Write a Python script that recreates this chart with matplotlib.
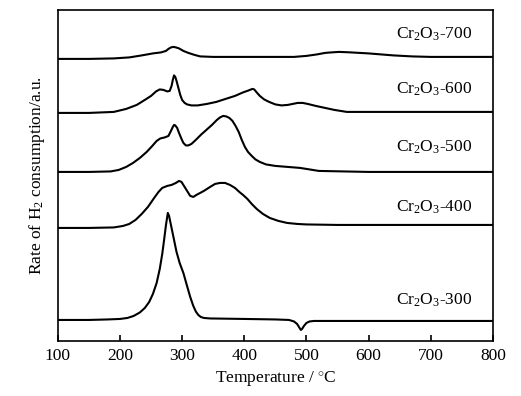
import numpy as np
import matplotlib
matplotlib.use('Agg')
from matplotlib import pyplot as plt

plt.rcParams['font.family'] = ['Liberation Serif', 'DejaVu Serif']
plt.rcParams['mathtext.fontset'] = 'custom'
plt.rcParams['mathtext.rm'] = 'Liberation Serif'
plt.rcParams['mathtext.default'] = 'rm'

# temperatures (C) and signal heights (a.u., stacked)
t300 = [100, 150, 180, 200, 212, 222, 232, 240, 247, 253, 259, 264, 268, 271, 274, 276, 277, 279, 281, 284,
        287, 291, 296, 302, 307, 313, 318, 322, 326, 330, 335, 345, 400, 450, 472, 480, 485, 489, 491,
        493, 496, 500, 505, 512, 550, 650, 800]
s300 = [21, 21, 21.5, 22, 23, 25, 28.5, 33, 39, 47, 58, 72, 87, 101, 116, 124, 128, 125, 119, 110,
        101, 89, 78, 68, 57, 44, 35, 29.5, 26, 24, 23, 22.5, 22, 21.5, 21, 19.5, 17, 13, 11,
        12, 15, 18, 19.5, 20, 20, 20, 20]

t400 = [100, 150, 190, 205, 215, 225, 235, 245, 255, 262, 268, 276, 283, 290, 295, 299, 302, 307, 313, 318,
        323, 335, 345, 353, 361, 369, 377, 385, 392, 398, 405, 412, 420, 430, 441, 455, 469, 485, 500,
        550, 650, 800]
s400 = [113, 113, 113.5, 115, 117, 121, 127, 134, 143, 149, 153, 155, 156, 158, 160, 159, 156, 151, 145, 144,
        146, 150, 154, 157, 158, 158, 156, 153, 149, 146, 142, 137, 132, 127, 123, 120, 118, 117, 116.5,
        116, 116, 116]

t500 = [100, 150, 185, 198, 210, 221, 232, 243, 252, 259, 265, 272, 278, 282, 285, 287, 289, 292, 295, 299,
        302, 306, 310, 315, 322, 330, 339, 348, 356, 361, 366, 371, 376, 381, 386, 391, 396, 401, 406, 412,
        418, 425, 435, 450, 470, 490, 520, 600, 800]
y500 = [172, 172, 171.5, 170, 167, 163, 158, 152, 146, 141, 138.5, 137.5, 136, 131, 127, 125, 125.5, 128, 133, 139,
        143, 145.5, 145.5, 144, 140, 135, 130, 125, 120, 117.5, 116, 116.5, 118, 121, 126, 132, 140, 147, 152, 156,
        159.5, 162, 164.5, 166, 167, 168, 171, 172, 172]

t600 = [100, 150, 190, 210, 227, 240, 250, 258, 264, 270, 276, 280, 283, 285, 287, 289, 291, 294, 297, 300,
        304, 308, 315, 325, 340, 355, 370, 385, 398, 407, 413, 416, 420, 425, 432, 440, 450, 460, 470, 478,
        486, 494, 502, 515, 530, 545, 565, 600, 700, 800]
y600 = [113, 113, 112, 109, 105, 100, 96, 91.5, 89.5, 90, 91.5, 91, 86, 80, 75.5, 77, 81, 88, 95, 100,
        103, 104.5, 105.5, 105.5, 104, 102, 99, 96, 92.5, 90.5, 89, 89.5, 92.5, 96, 99.5, 102, 104.5, 105.5, 105, 104,
        103, 103, 104, 106, 108, 110, 112, 112, 112, 112]

t700 = [100, 150, 190, 215, 235, 253, 266, 274, 278, 282, 286, 290, 295, 302, 310, 320, 329, 350, 400, 450,
        480, 500, 517, 530, 540, 552, 565, 580, 600, 620, 640, 670, 700, 800]
y700 = [59, 59, 58.5, 57.5, 55.5, 53.5, 52.5, 51, 49, 47.5, 47, 47.5, 48.5, 51, 53, 55, 56.5, 57, 57, 57,
        57, 56, 54.5, 53, 52.5, 52, 52.3, 52.8, 53.5, 54.5, 55.5, 56.5, 57, 57]

# upper three were read top-down, flip them to heights
s500 = [341 - v for v in y500]
s600 = [341 - v for v in y600]
s700 = [341 - v for v in y700]

labels = ['Cr$_2$O$_3$-300', 'Cr$_2$O$_3$-400', 'Cr$_2$O$_3$-500', 'Cr$_2$O$_3$-600', 'Cr$_2$O$_3$-700']
label_y = [36, 129, 189, 247, 302]

fig = plt.figure(figsize=(5.21, 3.96), dpi=100)
ax = fig.add_axes([0.111, 0.139, 0.835, 0.836])

curves = [(t300, s300), (t400, s400), (t500, s500), (t600, s600), (t700, s700)]
for (t, s), lab, ly in zip(curves, labels, label_y):
    ax.plot(t, s, color='black', linewidth=1.5, solid_joinstyle='round')
    ax.text(767, ly, lab, ha='right', va='baseline', fontsize=12.5)

ax.set_xlim(100, 800)
ax.set_ylim(0, 331)
ax.set_xticks(np.arange(100, 801, 100))
ax.set_yticks([])
ax.tick_params(axis='x', direction='in', length=4, width=1.2, labelsize=12.5, pad=5, top=False)
for sp in ax.spines.values():
    sp.set_linewidth(1.2)

ax.set_xlabel('Temperature / $^{\\circ}$C', fontsize=12.5, labelpad=4)
ax.set_ylabel('Rate of H$_2$ consumption/a.u.', fontsize=12.5, labelpad=8)

fig.savefig('out.png', dpi=100)
